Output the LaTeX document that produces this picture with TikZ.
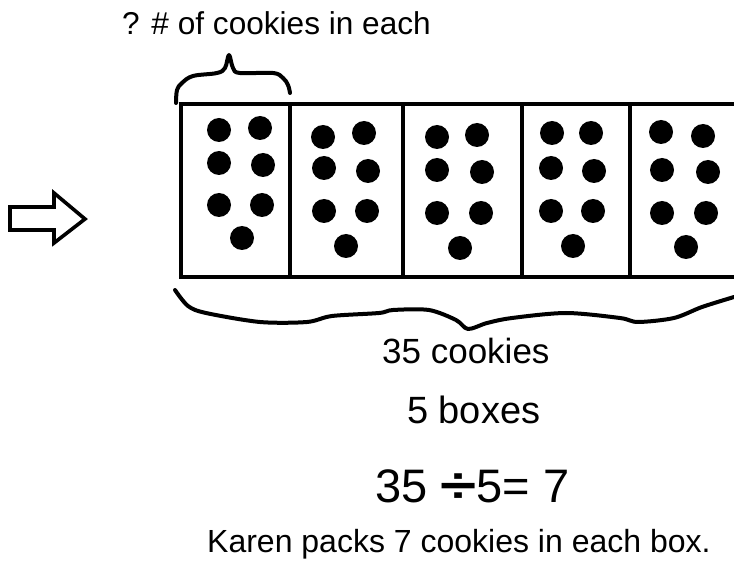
\documentclass[tikz,border=0pt]{standalone}
\usepackage{fontspec}
\usepackage{graphicx}
\setmainfont{Liberation Sans}
\usetikzlibrary{positioning}

\begin{document}
\begin{tikzpicture}[x=1pt,y=-1pt,
    lbl/.style={anchor=base west,inner sep=0pt,text=black},
    boxline/.style={line width=3.6pt},
    brace/.style={line width=4pt,line cap=round,line join=round},
    cookie/.style={fill=black}]
  \useasboundingbox (0,0) rectangle (734,561);
  % Arrow
  \draw[line width=3.6pt,line join=miter]
    (10,207) -- (54,207) -- (54,193) -- (85,219) -- (54,243) -- (54,230) -- (10,230) -- cycle;
  % Top label and brace
  \node[lbl,font=\fontsize{31.6}{38}\selectfont] (each) at (122,35) {? \# of cookies in each};
  \draw[brace] plot[smooth,tension=0.6] coordinates {(176,103) (177,90) (182,83) (193,76)
    (217,73) (225,68) (229,55) (233,68) (240,73) (273,73) (283,78) (288,85) (290,93)};
  % Boxes
  \draw[boxline] (734,104) -- (181,104) -- (181,277) -- (734,277);
  \foreach \xd in {290,403,522,630}
    \draw[boxline] (\xd,104) -- (\xd,279);
  % Cookies
  \foreach \cx/\cy in {219/130,260/128,219/163,263/165,219/205,262/205,242/238,
      323/137,364/133,324/168,368/171,324/211,367/211,346/246,
      437/137,477/135,437/170,482/172,437/213,481/213,460/248,
      552/133,591/133,551/168,594/171,551/211,593/211,573/246,
      661/132,703/136,662/170,708/172,662/213,706/213,686/247}
    \fill[cookie] (\cx,\cy) circle[radius=12pt];
  % Bottom brace
  \draw[brace] plot[smooth,tension=0.5] coordinates {(175,290) (188,306) (206,313) (260,322)
    (307,322) (332,316) (379,313) (393,310) (429,310) (456,320) (468,329) (487,323)
    (512,318) (566,313) (620,318) (638,322) (674,318) (702,307) (734,297)};
  % Texts
  \node[lbl,font=\fontsize{35}{42}\selectfont] (total) at (382,363) {35 cookies};
  \node[lbl,font=\fontsize{38}{46}\selectfont] (boxes) at (407,423) {5 boxes};
  \node[lbl,font=\fontsize{47}{56}\selectfont] (eqn) at (375,502)
    {35 \scalebox{1.4}[1.05]{\bfseries ÷}5= 7};
  \node[lbl,font=\fontsize{32}{38}\selectfont] (answer) at (207,552) {Karen packs 7 cookies in each box.};
\end{tikzpicture}
\end{document}
